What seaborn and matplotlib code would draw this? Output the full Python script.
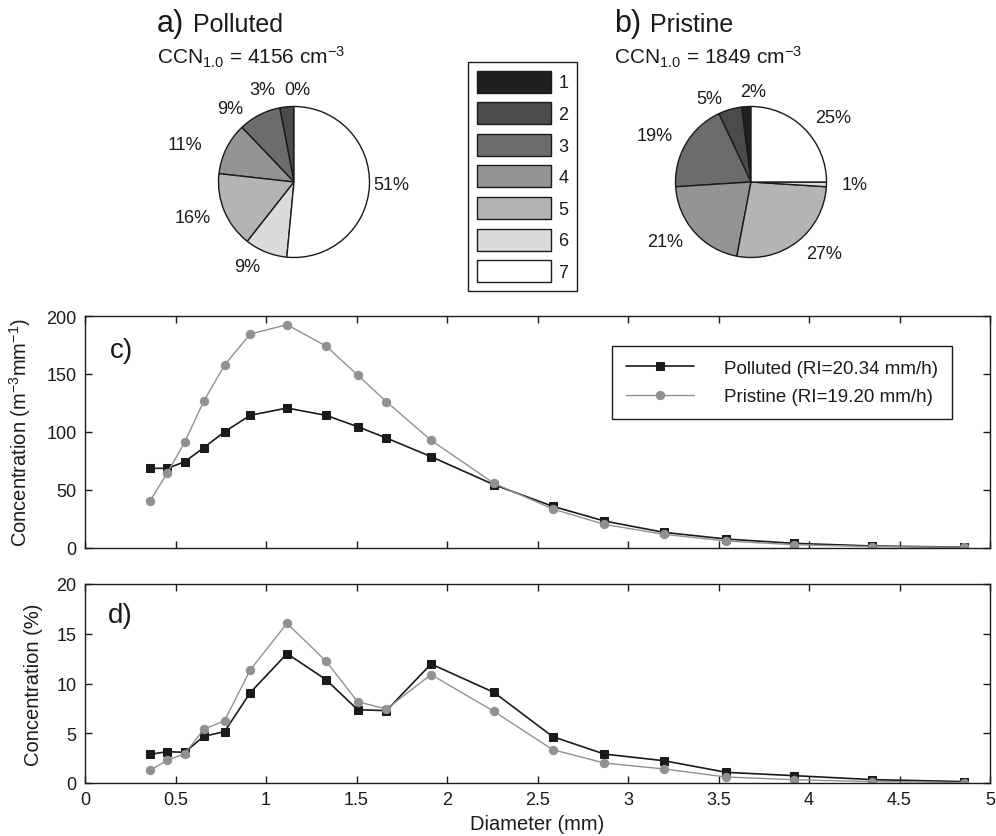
import matplotlib.pyplot as plt
import seaborn as sns
from matplotlib.patches import Patch
from matplotlib.ticker import FormatStrFormatter, MultipleLocator

# drop size bins (mm)
diameter = [0.359, 0.455, 0.551, 0.656, 0.771, 0.913, 1.116, 1.331, 1.506, 1.665,
            1.912, 2.259, 2.584, 2.869, 3.198, 3.544, 3.916, 4.350, 4.859]

# drop concentration (m-3 mm-1)
conc_polluted = [68.4, 68.4, 74.1, 86.2, 100.0, 114.2, 120.5, 114.2, 104.4, 94.6,
                 78.5, 54.3, 35.6, 22.9, 13.1, 7.3, 3.6, 1.3, 0.3]
conc_pristine = [40.2, 64.4, 91.1, 126.3, 157.7, 184.4, 192.5, 174.1, 149.0, 126.0,
                 92.6, 55.5, 33.3, 20.0, 11.4, 5.6, 2.4, 0.8, 0.3]

# drop concentration (%)
pct_polluted = [2.88, 3.15, 3.08, 4.69, 5.16, 9.08, 13.0, 10.4, 7.37, 7.27,
                11.96, 9.11, 4.66, 2.91, 2.24, 1.07, 0.74, 0.34, 0.14]
pct_pristine = [1.27, 2.28, 2.95, 5.39, 6.26, 11.36, 16.05, 12.26, 8.17, 7.44,
                10.89, 7.2, 3.35, 2.01, 1.41, 0.6, 0.33, 0.14, 0.05]

# CCN class shares (%)
classes = ['1', '2', '3', '4', '5', '6', '7']
pie_polluted = [0, 3, 9, 11, 16, 9, 51]
pie_pristine = [2, 5, 19, 21, 27, 1, 25]
class_colors = ['#1f1f1f', '#4b4b4d', '#6b6c6e', '#939496', '#b3b4b6', '#dadbdc', '#ffffff']

label_polluted = 'Polluted (RI=20.34 mm/h)'
label_pristine = 'Pristine (RI=19.20 mm/h)'

sns.set_style('ticks')
plt.rcParams['font.family'] = ['Liberation Sans', 'DejaVu Sans']
plt.rcParams['mathtext.fontset'] = 'custom'
plt.rcParams['mathtext.rm'] = 'Liberation Sans'
plt.rcParams['mathtext.it'] = 'Liberation Sans:italic'
plt.rcParams['mathtext.bf'] = 'Liberation Sans:bold'
for key in ['text.color', 'axes.labelcolor', 'xtick.color', 'ytick.color', 'axes.edgecolor']:
    plt.rcParams[key] = '#1a1a1a'

W, H = 996, 837
fig = plt.figure(figsize=(W / 100, H / 100), dpi=100)


def fbox(x0, y0, x1, y1):
    # pixel box -> figure fraction
    return [x0 / W, 1 - y1 / H, (x1 - x0) / W, (y1 - y0) / H]


def draw_pie(cx, cy, r, values, letter, name, ccn, nudges):
    ax = fig.add_axes(fbox(cx - r, cy - r, cx + r, cy + r))
    wedges, texts = ax.pie(values, colors=class_colors, startangle=90, counterclock=True,
                           labels=[f'{v}%' for v in values], labeldistance=1.2,
                           textprops={'fontsize': 13},
                           wedgeprops={'edgecolor': '#1a1a1a', 'linewidth': 1})
    # small slices near the top: spread the labels like the original
    for i, (pos, ha) in nudges.items():
        texts[i].set_position(pos)
        texts[i].set_ha(ha)
    ax.set_xlim(-1, 1)
    ax.set_ylim(-1, 1)
    fig.text((cx - 137) / W, 1 - 32 / H, letter, fontsize=22, va='baseline')
    fig.text((cx - 101) / W, 1 - 32 / H, name, fontsize=18, va='baseline')
    fig.text((cx - 137) / W, 1 - 64 / H, r'CCN$_{1.0}$ = ' + ccn + r' cm$^{-3}$',
             fontsize=15, va='baseline')


draw_pie(294, 183, 75.5, pie_polluted, 'a)', 'Polluted', '4156',
         {0: ((0.05, 1.23), 'center'), 1: ((-0.42, 1.23), 'center'),
          2: ((-0.85, 0.97), 'center'), 3: ((-1.45, 0.5), 'center'),
          6: ((1.05, -0.03), 'left')})
draw_pie(751, 183, 75.5, pie_pristine, 'b)', 'Pristine', '1849',
         {0: ((0.03, 1.2), 'center'), 1: ((-0.55, 1.1), 'center')})

handles = [Patch(facecolor=c, edgecolor='#1a1a1a', linewidth=1) for c in class_colors]
leg = fig.legend(handles, classes, loc='upper left', bbox_to_anchor=(468 / W, 1 - 62.5 / H),
                 borderaxespad=0, fontsize=13, handlelength=4.1, handleheight=1.5,
                 labelspacing=0.53, handletextpad=0.4, borderpad=0.5,
                 fancybox=False, framealpha=1, edgecolor='#1a1a1a')
leg.get_frame().set_linewidth(1)

ax_c = fig.add_axes(fbox(85, 317, 990, 548.5))
ax_d = fig.add_axes(fbox(85, 585, 990, 784))

gray = '#919191'
for ax, ypol, ypri in [(ax_c, conc_polluted, conc_pristine), (ax_d, pct_polluted, pct_pristine)]:
    sns.lineplot(x=diameter, y=ypol, ax=ax, color='#1a1a1a', linewidth=1.2,
                 marker='s', markersize=5.5, markeredgecolor='#1a1a1a',
                 label=label_polluted, legend=False)
    sns.lineplot(x=diameter, y=ypri, ax=ax, color=gray, linewidth=1.0,
                 marker='o', markersize=6, markeredgecolor=gray,
                 label=label_pristine, legend=False)
    ax.set_xlim(0, 5)
    ax.xaxis.set_major_locator(MultipleLocator(0.5))
    ax.xaxis.set_major_formatter(FormatStrFormatter('%g'))
    ax.tick_params(direction='in', top=True, right=True, length=5, width=1,
                   labelsize=13, pad=6)
    for s in ax.spines.values():
        s.set_visible(True)
        s.set_linewidth(1)

ax_c.set_ylim(0, 200)
ax_c.yaxis.set_major_locator(MultipleLocator(50))
ax_c.tick_params(labelbottom=False)
ax_c.set_ylabel(r'Concentration (m$^{-3}$mm$^{-1}$)', fontsize=14.5)
ax_c.yaxis.set_label_coords(-0.058, 0.5)
ax_c.text(0.027, 0.855, 'c)', transform=ax_c.transAxes, fontsize=20, va='center')
lg = ax_c.legend(loc='upper center', bbox_to_anchor=(0.77, 0.872), borderaxespad=0,
                 fontsize=13.5, handlelength=3.6, handletextpad=1.6, labelspacing=0.6,
                 borderpad=0.75, fancybox=False, framealpha=1, edgecolor='#1a1a1a')
lg.get_frame().set_linewidth(1)

ax_d.set_ylim(0, 20)
ax_d.yaxis.set_major_locator(MultipleLocator(5))
ax_d.set_ylabel('Concentration (%)', fontsize=14.5)
ax_d.yaxis.set_label_coords(-0.046, 0.5)
ax_d.set_xlabel('Diameter (mm)', fontsize=14.5, labelpad=4)
ax_d.text(0.025, 0.845, 'd)', transform=ax_d.transAxes, fontsize=20, va='center')

plt.savefig('out.png', dpi=100)
